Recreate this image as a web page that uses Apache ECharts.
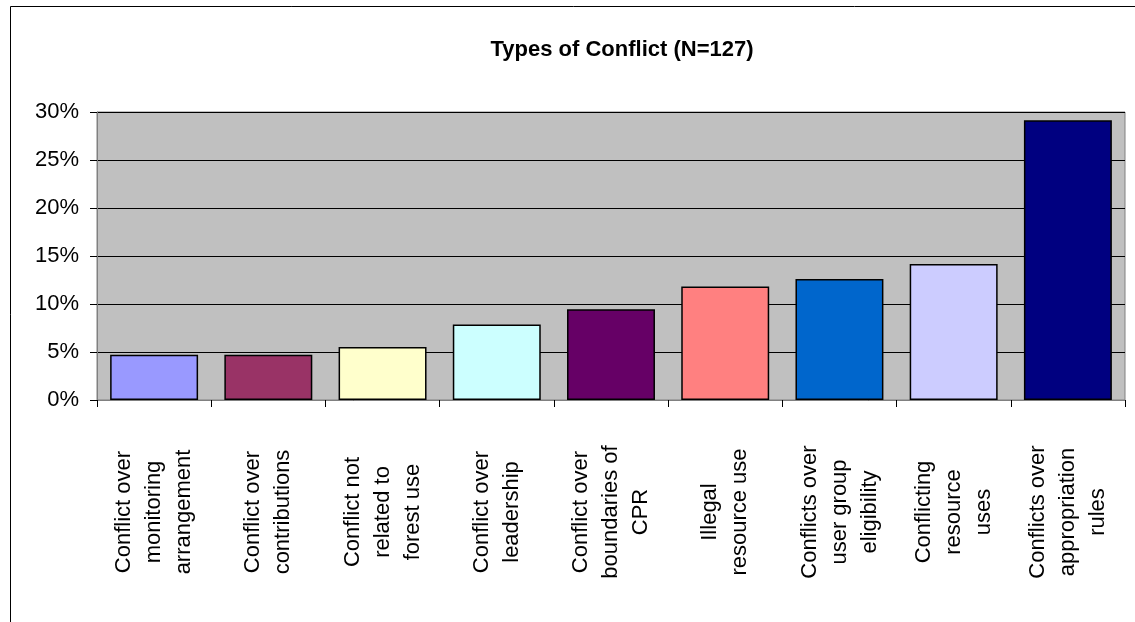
<!DOCTYPE html>
<html lang="en">
<head>
    <meta charset="UTF-8">
    <title>Types of Conflict (N=127)</title>
    <script src="https://cdn.jsdelivr.net/npm/echarts@6/dist/echarts.min.js"></script>
    <style>
        html, body { margin: 0; padding: 0; background: #fff; }
        #chart { width: 1135px; height: 622px; }
    </style>
</head>
<body>
    <div id="chart"></div>
    <script>
        const categories = [
            'Conflict over\nmonitoring\narrangement',
            'Conflict over\ncontributions',
            'Conflict not\nrelated to\nforest use',
            'Conflict over\nleadership',
            'Conflict over\nboundaries of\nCPR',
            'Illegal\nresource use',
            'Conflicts over\nuser group\neligibility',
            'Conflicting\nresource\nuses',
            'Conflicts over\nappropriation\nrules'
        ];
        // share of conflicts, in percent
        const shares = [4.72, 4.72, 5.51, 7.87, 9.45, 11.81, 12.60, 14.17, 29.13];
        const barColors = ['#9999FF', '#993366', '#FFFFCC', '#CCFFFF', '#660066', '#FF8080', '#0066CC', '#CCCCFF', '#000080'];
        const yTicks = { min: 0, max: 30, step: 5 };

        const chart = echarts.init(document.getElementById('chart'));

        const option = {
            animation: false,
            textStyle: { fontFamily: 'Arial, "Liberation Sans", sans-serif' },
            graphic: [{
                type: 'rect',
                shape: { x: 10.5, y: 6.5, width: 1300, height: 700 },
                style: { fill: 'none', stroke: '#000', lineWidth: 1 },
                silent: true
            }],
            title: {
                text: 'Types of Conflict (N=127)',
                left: 617,
                top: 34,
                textAlign: 'center',
                textStyle: { fontSize: 22, fontWeight: 'bold', color: '#000' }
            },
            grid: {
                left: 97, right: 10, top: 112, bottom: 222,
                show: true,
                backgroundColor: '#C0C0C0',
                borderColor: '#808080',
                borderWidth: 1
            },
            xAxis: {
                type: 'category',
                data: categories,
                axisLine: { lineStyle: { color: '#808080', width: 1 } },
                axisTick: { show: true, length: 7, alignWithLabel: false, lineStyle: { color: '#000' } },
                axisLabel: {
                    interval: 0,
                    rotate: 90,
                    align: 'center',
                    verticalAlign: 'middle',
                    margin: 112,
                    fontSize: 22,
                    lineHeight: 30,
                    color: '#000'
                }
            },
            yAxis: {
                type: 'value',
                min: yTicks.min,
                max: yTicks.max,
                interval: yTicks.step,
                axisLine: { show: true, lineStyle: { color: '#808080', width: 1 } },
                axisTick: { show: true, length: 7, lineStyle: { color: '#000' } },
                splitLine: { lineStyle: { color: '#000', width: 1 } },
                axisLabel: {
                    formatter: v => v + '%',
                    fontSize: 22,
                    margin: 18,
                    color: '#000'
                }
            },
            series: [{
                type: 'bar',
                data: shares.map((v, i) => ({ value: v, itemStyle: { color: barColors[i] } })),
                barWidth: '77%',
                itemStyle: { borderColor: '#000', borderWidth: 1.5 }
            }]
        };

        chart.setOption(option);
    </script>
</body>
</html>
